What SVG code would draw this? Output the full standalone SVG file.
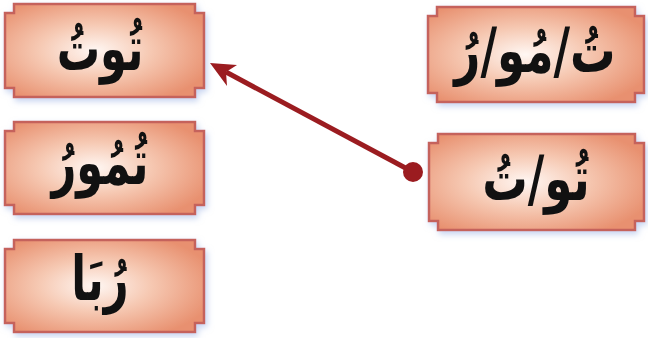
<svg xmlns="http://www.w3.org/2000/svg" width="648" height="338" viewBox="0 0 648 338">
<defs>
<radialGradient id="g" cx="0.45" cy="0.5" r="0.62">
<stop offset="0" stop-color="#fff7f3"/>
<stop offset="0.45" stop-color="#f6c9b3"/>
<stop offset="1" stop-color="#e8906f"/>
</radialGradient>
<filter id="sh" x="-10%" y="-10%" width="120%" height="125%">
<feDropShadow dx="2" dy="3" stdDeviation="3" flood-color="#9fb6e6" flood-opacity="0.6"/>
</filter>
</defs>
<style>
.box{fill:url(#g);stroke:#c5625c;stroke-width:2.5;filter:url(#sh)}
.t{font-family:"DejaVu Sans",sans-serif;font-weight:bold;font-size:54px;fill:#111;text-anchor:middle}
</style>
<g id="node-tut">
<path class="box" d="M14,4 H195 V13 H204 V88 H195 V97 H14 V88 H5 V13 H14 Z"/>
<text class="t" transform="translate(100,70) scale(0.8,1.15)" x="0" y="0">تُوتُ</text>
</g>
<g id="node-tumur">
<path class="box" d="M14,122 H195 V131 H204 V205 H195 V214 H14 V205 H5 V131 H14 Z"/>
<text class="t" transform="translate(100,184) scale(0.8,1.15)" x="0" y="0">تُمُورُ</text>
</g>
<g id="node-ruba">
<path class="box" d="M14,240 H195 V249 H204 V323 H195 V332 H14 V323 H5 V249 H14 Z"/>
<text class="t" transform="translate(100,300) scale(0.8,1.15)" x="0" y="0">رُبَا</text>
</g>
<g id="node-tu-mu-ru">
<path class="box" d="M437,7 H635 V16 H644 V93 H635 V102 H437 V93 H428 V16 H437 Z"/>
<text class="t" transform="translate(535,72) scale(0.84,1.15)" x="0" y="0">تُ/مُو/رُ</text>
</g>
<g id="node-tu-tu">
<path class="box" d="M438,134 H635 V143 H644 V221 H635 V230 H438 V221 H429 V143 H438 Z"/>
<text class="t" transform="translate(536,200) scale(0.84,1.15)" x="0" y="0">تُو/تُ</text>
</g>
<g id="connectors">
<line x1="413" y1="172" x2="226" y2="72" stroke="#9b1c20" stroke-width="5"/>
<path d="M210,63 L237,65 L226,72 L227,86 Z" fill="#9b1c20"/>
<circle cx="413" cy="172" r="10" fill="#9b1c20"/>
</g>
</svg>
